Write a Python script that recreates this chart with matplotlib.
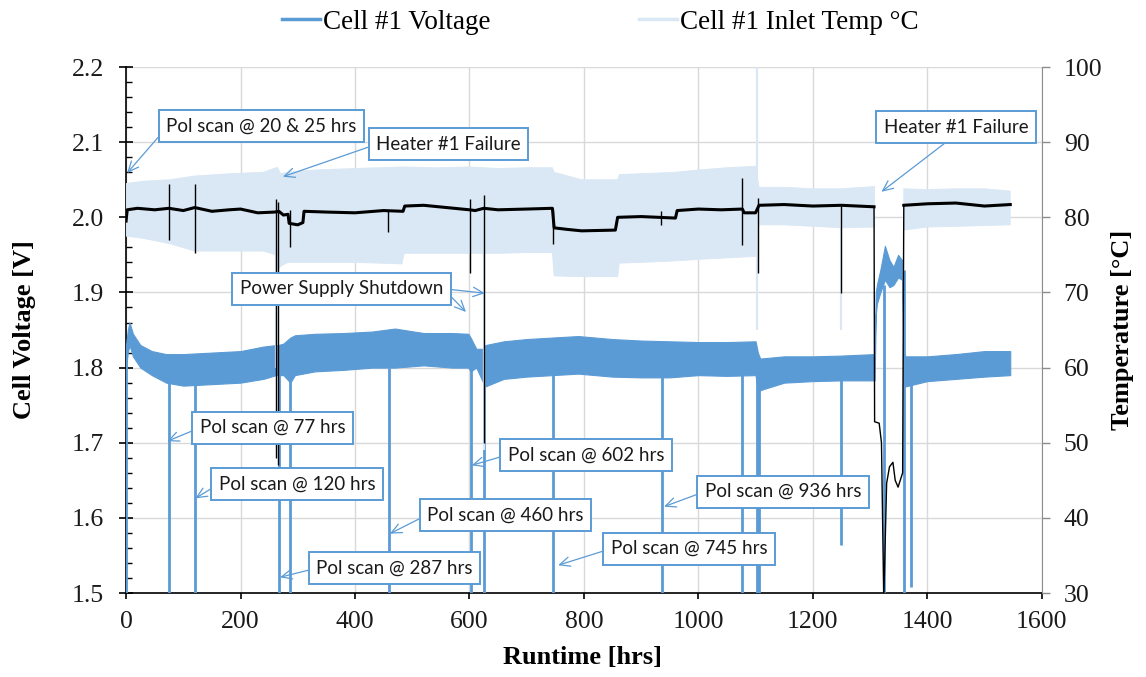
import numpy as np
import matplotlib
matplotlib.use("Agg")
import matplotlib.pyplot as plt
from matplotlib.lines import Line2D
from matplotlib.ticker import MultipleLocator, FormatStrFormatter

# ------------------------------------------------------------------
# values
# cell voltage envelope (noisy trace drawn as a band)
volt_hrs = [0, 3, 6, 12, 25, 45, 70, 100, 150, 200, 240, 262, 266, 275, 287,
            295, 330, 380, 430, 470, 520, 570, 598, 602, 612, 624, 628, 660,
            700, 745, 790, 850, 900, 950, 1000, 1050, 1100, 1104, 1108, 1150,
            1200, 1250, 1308, 1310, 1312, 1318, 1326, 1334, 1341, 1349, 1356,
            1359, 1362, 1400, 1450, 1500, 1545]
volt_hi = [1.83, 1.85, 1.86, 1.845, 1.83, 1.822, 1.818, 1.818, 1.82, 1.822,
           1.828, 1.83, 1.83, 1.832, 1.84, 1.843, 1.845, 1.846, 1.848, 1.852,
           1.846, 1.846, 1.845, 1.84, 1.825, 1.825, 1.83, 1.835, 1.838, 1.84,
           1.842, 1.838, 1.836, 1.835, 1.834, 1.834, 1.835, 1.82, 1.812,
           1.815, 1.815, 1.816, 1.818, 1.90, 1.91, 1.93, 1.962, 1.943, 1.934,
           1.95, 1.943, 1.82, 1.815, 1.815, 1.818, 1.822, 1.822]
volt_lo = [1.80, 1.82, 1.83, 1.815, 1.80, 1.79, 1.78, 1.776, 1.778, 1.78,
           1.785, 1.79, 1.79, 1.79, 1.78, 1.79, 1.795, 1.797, 1.80, 1.80,
           1.803, 1.80, 1.80, 1.795, 1.80, 1.78, 1.775, 1.785, 1.788, 1.79,
           1.792, 1.788, 1.787, 1.787, 1.79, 1.789, 1.79, 1.765, 1.77, 1.78,
           1.782, 1.783, 1.783, 1.87, 1.885, 1.90, 1.917, 1.907, 1.91, 1.92,
           1.917, 1.79, 1.775, 1.782, 1.785, 1.788, 1.79]

# pol scans / shutdowns: voltage drops
drop_hrs = [0, 75, 120, 267, 287, 459, 602, 625, 746, 936, 1077, 1103, 1106,
            1250, 1324, 1359, 1371]
drop_top = [1.83, 1.79, 1.79, 1.79, 1.79, 1.80, 1.80, 1.79, 1.79, 1.79, 1.79,
            1.79, 1.78, 1.785, 1.91, 1.93, 1.80]
drop_bot = [1.45, 1.45, 1.45, 1.45, 1.45, 1.45, 1.45, 1.45, 1.45, 1.45, 1.45,
            1.45, 1.45, 1.564, 1.45, 1.45, 1.508]

# inlet temperature envelope (NaN = off scale during heater failure)
temp_hrs = [0, 30, 76, 120, 180, 240, 262, 265, 270, 283, 330, 400, 482, 486,
            540, 600, 650, 700, 745, 748, 796, 859, 862, 900, 960, 1000, 1050,
            1100, 1106, 1150, 1200, 1250, 1308, 1333, 1359, 1400, 1450, 1500,
            1545]
temp_hi = [84.5, 84.8, 85.0, 85.5, 85.8, 86.0, 86.6, 86.6, 85.8, 86.0, 86.3,
           86.5, 86.7, 86.7, 86.6, 86.7, 86.5, 86.6, 86.6, 86.0, 85.0, 85.0,
           85.7, 85.8, 86.0, 86.3, 86.6, 86.8, 84.0, 84.0, 83.8, 83.8, 84.1,
           np.nan, 83.8, 83.7, 83.8, 83.8, 83.5]
temp_lo = [77.5, 77.2, 76.5, 75.5, 75.5, 75.5, 75.0, 73.0, 73.5, 74.0, 74.0,
           74.0, 73.8, 75.2, 75.2, 75.2, 75.2, 75.3, 75.3, 72.2, 72.1, 72.1,
           73.9, 74.0, 74.2, 74.4, 74.6, 74.8, 79.0, 79.0, 78.8, 78.6, 78.7,
           np.nan, 78.3, 78.7, 78.8, 78.9, 79.0]

# short excursions of the inlet temperature
tspike_hrs = [262, 625, 1103, 1250]
tspike_lo = [60.0, 49.0, 65.0, 65.0]
tspike_hi = [86.6, 84.0, 100.0, 79.0]

# black trace (right axis)
black_hrs = [0, 2, 20, 50, 75, 100, 120, 150, 180, 200, 230, 260, 267, 275,
             283, 285, 300, 309, 311, 350, 400, 450, 484, 487, 520, 560, 600,
             610, 625, 650, 700, 745, 748, 770, 796, 855, 859, 900, 960, 963,
             1000, 1040, 1077, 1080, 1100, 1106, 1150, 1200, 1250, 1307, 1308,
             1316, 1320, 1324, 1329, 1334, 1340, 1344, 1349, 1357, 1359, 1400,
             1450, 1500, 1545]
black_t = [79.5, 81.0, 81.2, 81.0, 81.2, 80.9, 81.3, 80.8, 81.0, 81.1, 80.6,
           80.7, 80.8, 80.3, 80.4, 79.2, 79.0, 79.3, 80.8, 80.7, 80.6, 80.9,
           80.8, 81.5, 81.6, 81.3, 81.0, 80.9, 81.2, 81.0, 81.1, 81.2, 78.6,
           78.4, 78.2, 78.3, 80.0, 80.1, 79.9, 80.9, 81.1, 81.0, 81.1, 80.6,
           80.6, 81.6, 81.7, 81.5, 81.6, 81.4, 52.8, 52.6, 50.0, 29.0, 44.6,
           46.8, 47.4, 45.0, 44.1, 46.0, 81.6, 81.8, 81.9, 81.5, 81.7]
bspike_hrs = [75, 120, 262, 266, 287, 458, 601, 625, 746, 934, 1077, 1104, 1250]
bspike_lo = [77.0, 75.2, 48.0, 47.0, 76.1, 78.0, 72.6, 50.0, 76.5, 79.0, 76.3,
             72.6, 69.9]
bspike_hi = [84.4, 84.4, 82.5, 82.0, 81.0, 81.0, 82.5, 83.0, 81.0, 80.8, 85.2,
             82.6, 81.6]

# callouts: text, text anchor (hrs, V), arrow tip (hrs, V), arrow start on box
notes = ["Pol scan @ 20 & 25 hrs", "Heater #1 Failure", "Power Supply Shutdown",
         "Pol scan @ 77 hrs", "Pol scan @ 120 hrs", "Pol scan @ 460 hrs",
         "Pol scan @ 287 hrs", "Pol scan @ 602 hrs", "Pol scan @ 936 hrs",
         "Pol scan @ 745 hrs", "Heater #1 Failure"]
note_xy = [(70, 2.121), (437, 2.097), (199, 1.905), (129, 1.720), (162, 1.645),
           (526, 1.604), (332, 1.533), (667, 1.684), (1011, 1.635),
           (847, 1.559), (1324, 2.120)]
note_tip = [[(2, 2.059)], [(274, 2.054)], [(627, 1.899), (594, 1.874)],
            [(72, 1.702)], [(121, 1.626)], [(461, 1.579)], [(269, 1.521)],
            [(604, 1.670)], [(940, 1.615)], [(755, 1.537)], [(1320, 2.034)]]
note_rel = [(0, 0.4), (0, 0.5), (1, 0.5), (0, 0.5), (0, 0.5), (0, 0.5),
            (0, 0.5), (0, 0.5), (0, 0.5), (0, 0.5), (0.49, 0)]

# ------------------------------------------------------------------
blue = "#5B9BD5"
pale = "#DAE8F5"
serif = "Liberation Serif"

fig, ax = plt.subplots(figsize=(11.46, 6.77), dpi=100)
fig.subplots_adjust(left=0.110, right=0.909, top=0.901, bottom=0.124)
ax2 = ax.twinx()

# voltage (left axis)
ax.fill_between(volt_hrs, volt_lo, volt_hi, color=blue, lw=0.8, zorder=3)
ax.vlines(drop_hrs, drop_bot, drop_top, color=blue, lw=2.0, zorder=3)

# temperatures (right axis)
ax2.fill_between(temp_hrs, temp_lo, temp_hi, color=pale, lw=0.6, zorder=1)
ax2.vlines(tspike_hrs, tspike_lo, tspike_hi, color=pale, lw=1.6, zorder=1)
bh = np.array(black_hrs, dtype=float)
bt = np.array(black_t, dtype=float)
thick = (bh <= 1307) | (bh >= 1359)
thin = (bh >= 1307) & (bh <= 1359)
ax2.plot(bh, np.where(thick, bt, np.nan), color="k", lw=2.2, zorder=2)
ax2.plot(bh, np.where(thin, bt, np.nan), color="k", lw=1.0, zorder=2)
ax2.vlines(bspike_hrs, bspike_lo, bspike_hi, color="k", lw=1.0, zorder=2)

# axes
ax.set_xlim(0, 1600)
ax.set_ylim(1.5, 2.2)
ax2.set_ylim(30, 100)
ax.xaxis.set_major_locator(MultipleLocator(200))
ax.yaxis.set_major_locator(MultipleLocator(0.1))
ax.yaxis.set_minor_locator(MultipleLocator(0.02))
ax.yaxis.set_major_formatter(FormatStrFormatter("%.1f"))
ax2.yaxis.set_major_locator(MultipleLocator(10))
ax.grid(True, which="major", color="#D9D9D9", lw=1.0)
ax.set_axisbelow(True)

for s in ("top", "right"):
    ax.spines[s].set_visible(False)
for s in ("top", "left", "bottom"):
    ax2.spines[s].set_visible(False)
ax.spines["left"].set_linewidth(1.2)
ax.spines["bottom"].set_linewidth(1.2)
ax2.spines["right"].set_color("#8C8C8C")

tick_font = dict(labelsize=18.5, labelcolor="#1a1a1a")
ax.tick_params(axis="y", which="major", direction="inout", length=10,
               width=1.2, pad=11, **tick_font)
ax.tick_params(axis="y", which="minor", direction="in", length=4.3, width=1.0)
ax.tick_params(axis="x", which="major", direction="out", length=4.3,
               width=1.2, pad=8.5, **tick_font)
ax2.tick_params(axis="y", direction="out", length=5.8, width=1.0,
                color="#8C8C8C", pad=10, **tick_font)
for lab in ax.get_xticklabels() + ax.get_yticklabels() + ax2.get_yticklabels():
    lab.set_fontfamily(serif)

lab_font = dict(fontfamily=serif, fontsize=19, fontweight="bold")
ax.set_xlabel("Runtime [hrs]", **lab_font)
ax.set_ylabel("Cell Voltage [V]", **lab_font)
ax2.set_ylabel("Temperature [°C]", **lab_font)
ax.xaxis.set_label_coords(0.498, -0.101)
ax.yaxis.set_label_coords(-0.098, 0.5)
ax2.yaxis.set_label_coords(1.076, 0.5)

# callouts
box = dict(boxstyle="square,pad=0.4", fc="white", ec=blue, lw=1.4)
hidden = dict(boxstyle="square,pad=0.4", fc="none", ec="none")
for i, text in enumerate(notes):
    for k, tip in enumerate(note_tip[i]):
        ax2.annotate(text, xy=tip, xycoords=ax.transData,
                     xytext=note_xy[i], textcoords=ax.transData,
                     ha="left", va="center", fontsize=13.5, fontfamily="Lato",
                     color="#1a1a1a" if k == 0 else "none",
                     bbox=box if k == 0 else hidden,
                     arrowprops=dict(arrowstyle="->,head_length=0.55,head_width=0.25",
                                     color=blue, lw=0.9, shrinkA=0, shrinkB=0,
                                     relpos=note_rel[i]),
                     annotation_clip=False, zorder=10 + i)

# legend
handles = [Line2D([], [], color=blue, lw=2.5), Line2D([], [], color=pale, lw=2.5)]
fig.legend(handles, ["Cell #1 Voltage", "Cell #1 Inlet Temp °C"], loc="center",
           bbox_to_anchor=(0.524, 0.967), ncol=2, frameon=False,
           prop=dict(family=serif, size=19.5), handlelength=1.4,
           handletextpad=0.1, columnspacing=5.5)

fig.savefig("out.png", dpi=100)
